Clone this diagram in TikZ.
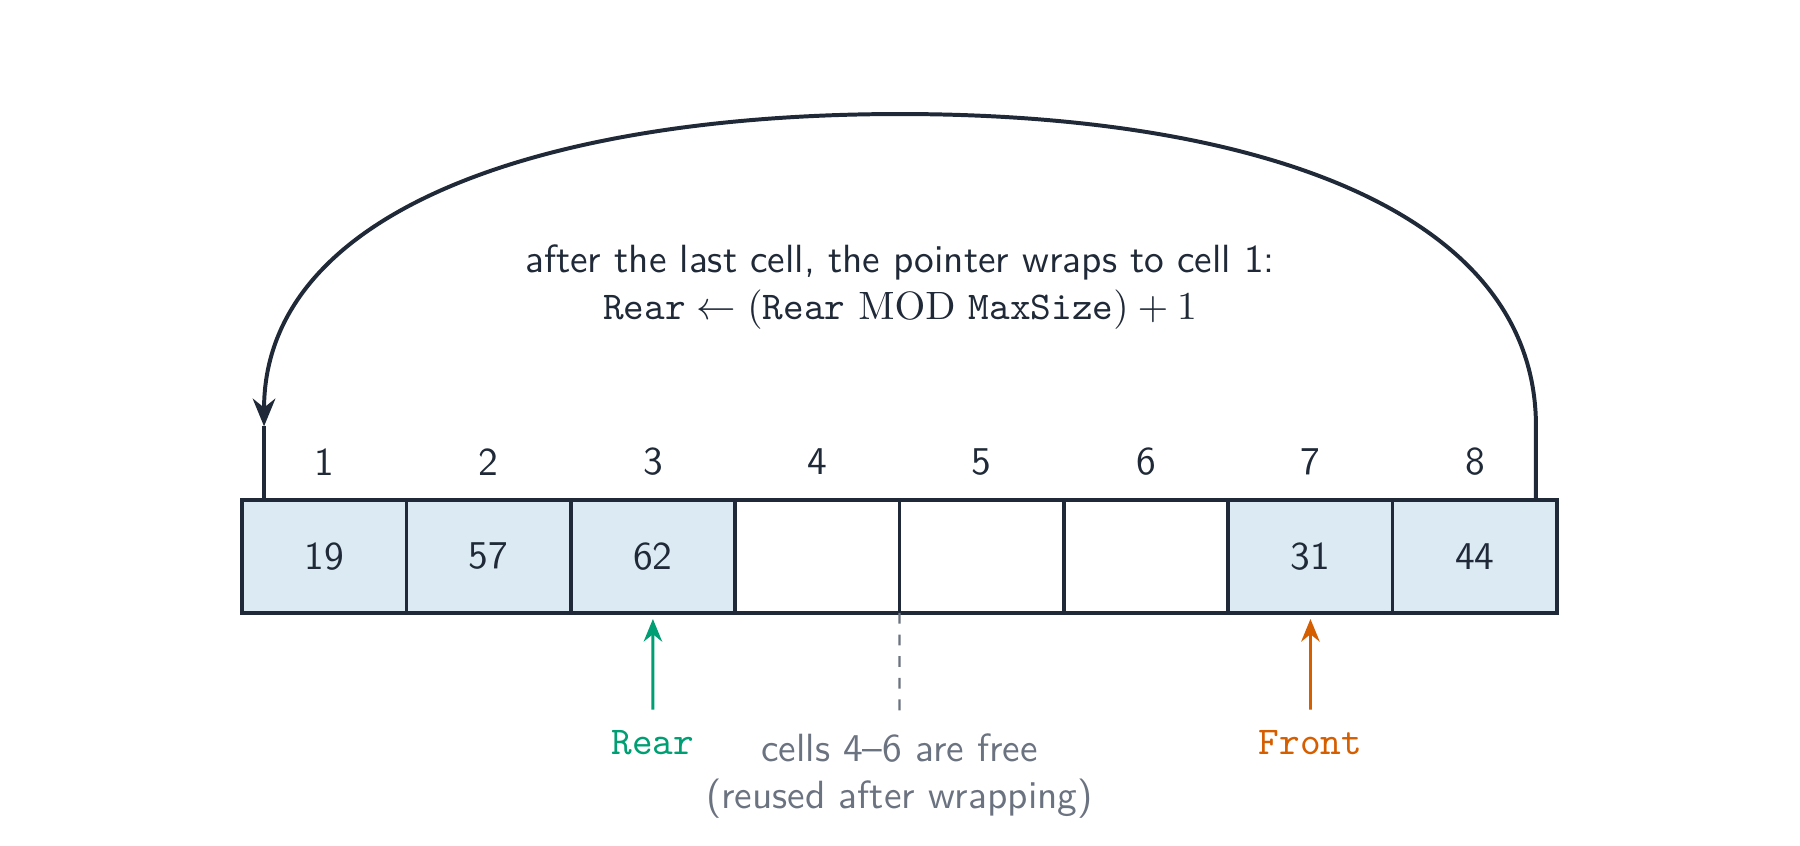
\documentclass[tikz,border=0pt]{standalone}
\usetikzlibrary{arrows.meta,positioning}
\renewcommand{\familydefault}{\sfdefault}

\definecolor{ink}{HTML}{1F2937}
\definecolor{cellfill}{HTML}{DBEAF3}
\definecolor{reargreen}{HTML}{009E73}
\definecolor{frontorange}{HTML}{D55E00}
\definecolor{notegray}{HTML}{6B7280}

\tikzset{
  cell/.style={draw=ink, line width=1pt, minimum width=1.6cm, minimum height=1.1cm,
    inner sep=0pt, outer sep=0pt, text=ink},
  used/.style={cell, fill=cellfill},
  idx/.style={text=ink},
  ptr/.style={-{Stealth[length=2.2mm,width=1.8mm]}, line width=0.8pt},
}

\begin{document}
\begin{tikzpicture}[font=\fontsize{10.9}{13}\selectfont\sffamily]
    \useasboundingbox (0,0) rectangle (17.52,8.23);

    % the array
    \node[used] (c1) at (3.155,2.815) {19};
    \node[used, right=0pt of c1] (c2) {57};
    \node[used, right=0pt of c2] (c3) {62};
    \node[cell, right=0pt of c3] (c4) {};
    \node[cell, right=0pt of c4] (c5) {};
    \node[cell, right=0pt of c5] (c6) {};
    \node[used, right=0pt of c6] (c7) {31};
    \node[used, right=0pt of c7] (c8) {44};

    \foreach \i in {1,...,8}
        \node[idx] (i\i) at ([yshift=0.37cm]c\i.north) {\i};

    % wrap-around arrow
    \coordinate (wrapR) at (14.95,4.08);
    \coordinate (wrapL) at (2.57,4.08);
    \draw[-{Stealth[length=2.7mm,width=2.2mm]}, ink, line width=1.1pt]
        (c8.north -| wrapR) -- (wrapR)
        .. controls (14.95,6.21) and (12.16,7.12) .. (8.76,7.12)
        .. controls (5.36,7.12) and (2.57,6.21) .. (wrapL);
    \draw[ink, line width=1.1pt] (wrapL) -- (c1.north -| wrapL);

    \node[text=ink, align=center] (rule) at (8.76,5.44)
        {after the last cell, the pointer wraps to cell 1:\\
         $\texttt{Rear} \leftarrow (\texttt{Rear}\ \mathrm{MOD}\ \texttt{MaxSize}) + 1$};

    % pointers
    \node[text=reargreen] (rear) at (6.355,1.00) {\texttt{Rear}};
    \node[text=frontorange] (front) at (12.755,1.00) {\texttt{Front}};
    \draw[ptr, reargreen] ([yshift=0.8mm]rear.north) -- ([yshift=-0.6mm]c3.south);
    \draw[ptr, frontorange] ([yshift=0.8mm]front.north) -- ([yshift=-0.6mm]c7.south);

    % free cells
    \coordinate (freeend) at (8.755,1.25);
    \draw[notegray, dashed, line width=0.6pt] (c4.south east) -- (freeend);
    \node[text=notegray, align=center] (free) at (8.755,0.675)
        {cells 4–6 are free\\(reused after wrapping)};
\end{tikzpicture}
\end{document}
